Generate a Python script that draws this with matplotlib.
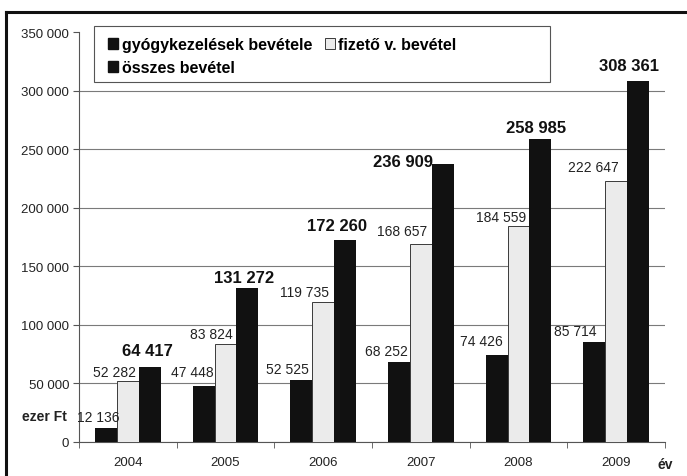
import numpy as np
import matplotlib
matplotlib.use("Agg")
import matplotlib.pyplot as plt
from matplotlib.patches import Patch, Rectangle
from matplotlib.lines import Line2D

years = ["2004", "2005", "2006", "2007", "2008", "2009"]
gyogy = [12136, 47448, 52525, 68252, 74426, 85714]
fizeto = [52282, 83824, 119735, 168657, 184559, 222647]
osszes = [64417, 131272, 172260, 236909, 258985, 308361]
series_names = ["gyógykezelések bevétele", "fizető v. bevétel", "összes bevétel"]
y_ticks = [0, 50000, 100000, 150000, 200000, 250000, 300000, 350000]

# label offsets in pixels (dx, dy) -- positioning only
off_g = [(-8, 11), (-11, 14), (-14, 11), (-12, 11), (-15, 14), (-19, 11)]
off_f = [(-13, 9), (-14, 10), (-19, 10), (-19, 13), (-17, 9), (-23, 14)]
off_o = [(-2, 16), (-3, 11), (-8, 15), (-40, 3), (-4, 11), (-9, 15)]

W, H = 687, 477
fig = plt.figure(figsize=(W / 100, H / 100), dpi=100)
fig.patch.set_facecolor("white")
ax = fig.add_axes([79 / W, 1 - 443 / H, 586 / W, 410 / H])

narrow = ["Liberation Sans Narrow", "Liberation Sans", "DejaVu Sans"]
reg = ["Liberation Sans", "DejaVu Sans"]

x = np.arange(len(years))
w = 0.225
dark = "#111111"
light = "#ebebeb"
ax.bar(x - w, gyogy, w, color=dark, zorder=3)
ax.bar(x, fizeto, w, color=light, edgecolor="#3a3a3a", linewidth=0.7, zorder=3)
ax.bar(x + w, osszes, w, color=dark, zorder=3)

def fmt(v):
    return f"{v:,}".replace(",", " ")

for i in range(len(years)):
    ax.annotate(fmt(gyogy[i]), xy=(x[i] - w, gyogy[i]), xytext=off_g[i],
                textcoords="offset pixels", ha="center", va="center",
                fontsize=10, family=reg, color="#222222")
    ax.annotate(fmt(fizeto[i]), xy=(x[i], fizeto[i]), xytext=off_f[i],
                textcoords="offset pixels", ha="center", va="center",
                fontsize=10, family=reg, color="#222222")
    ax.annotate(fmt(osszes[i]), xy=(x[i] + w, osszes[i]), xytext=off_o[i],
                textcoords="offset pixels", ha="center", va="center",
                fontsize=12, fontweight="bold", family=reg, color="#111111")

ax.set_xlim(-0.5, len(years) - 0.5)
ax.set_ylim(0, 350000)
ax.set_yticks(y_ticks)
ax.set_yticklabels([fmt(v) for v in y_ticks], family=narrow, fontsize=9.5, color="#222222")
ax.set_xticks(x)
ax.set_xticklabels(years, family=narrow, fontsize=9.5, color="#222222")
ax.set_xticks(np.arange(-0.5, len(years) + 0.5, 1), minor=True)
ax.tick_params(axis="x", which="major", length=0, pad=10)
ax.tick_params(axis="x", which="minor", length=4, color="#555555", direction="out")
ax.tick_params(axis="y", length=4, color="#555555", direction="out", pad=3)

for s in ["top", "right"]:
    ax.spines[s].set_visible(False)
for s in ["left", "bottom"]:
    ax.spines[s].set_color("#555555")
    ax.spines[s].set_linewidth(0.8)

ax.yaxis.grid(True, color="#7a7a7a", linewidth=0.8, zorder=0)
ax.set_axisbelow(True)
gl = ax.get_ygridlines()
gl[-1].set_visible(False)

fig.text(44 / W, 1 - 417 / H, "ezer Ft", ha="center", va="center",
         fontsize=10, fontweight="bold", family=reg, color="#222222")
fig.text(665 / W, 1 - 465 / H, "év", ha="center", va="center",
         fontsize=10, fontweight="bold", family=reg, color="#222222")

# legend box
fig.add_artist(Rectangle((94 / W, 1 - 83 / H), (550 - 94) / W, 56 / H,
                         transform=fig.transFigure, facecolor="white",
                         edgecolor="#555555", linewidth=0.8, zorder=1))
handles = [Patch(facecolor=dark, edgecolor=dark),
           Patch(facecolor=dark, edgecolor=dark),
           Patch(facecolor=light, edgecolor="#3a3a3a", linewidth=0.7)]
labels = [series_names[0], series_names[2], series_names[1]]
fig.legend(handles, labels, loc="upper left", bbox_to_anchor=(100 / W, 1 - 30 / H),
           bbox_transform=fig.transFigure, ncol=2, frameon=False, borderpad=0,
           handlelength=0.65, handleheight=0.65, handletextpad=0.2,
           columnspacing=0.8, labelspacing=0.5,
           prop={"family": reg, "weight": "bold", "size": 11.5})

# scanned page frame
fig.add_artist(Line2D([6 / W, 6 / W], [0, 1 - 13 / H], transform=fig.transFigure,
                      color="#111111", linewidth=2.2))
fig.add_artist(Line2D([6 / W, 1], [1 - 13 / H, 1 - 13 / H], transform=fig.transFigure,
                      color="#111111", linewidth=2.2))

fig.savefig("out.png", dpi=100, facecolor="white")
